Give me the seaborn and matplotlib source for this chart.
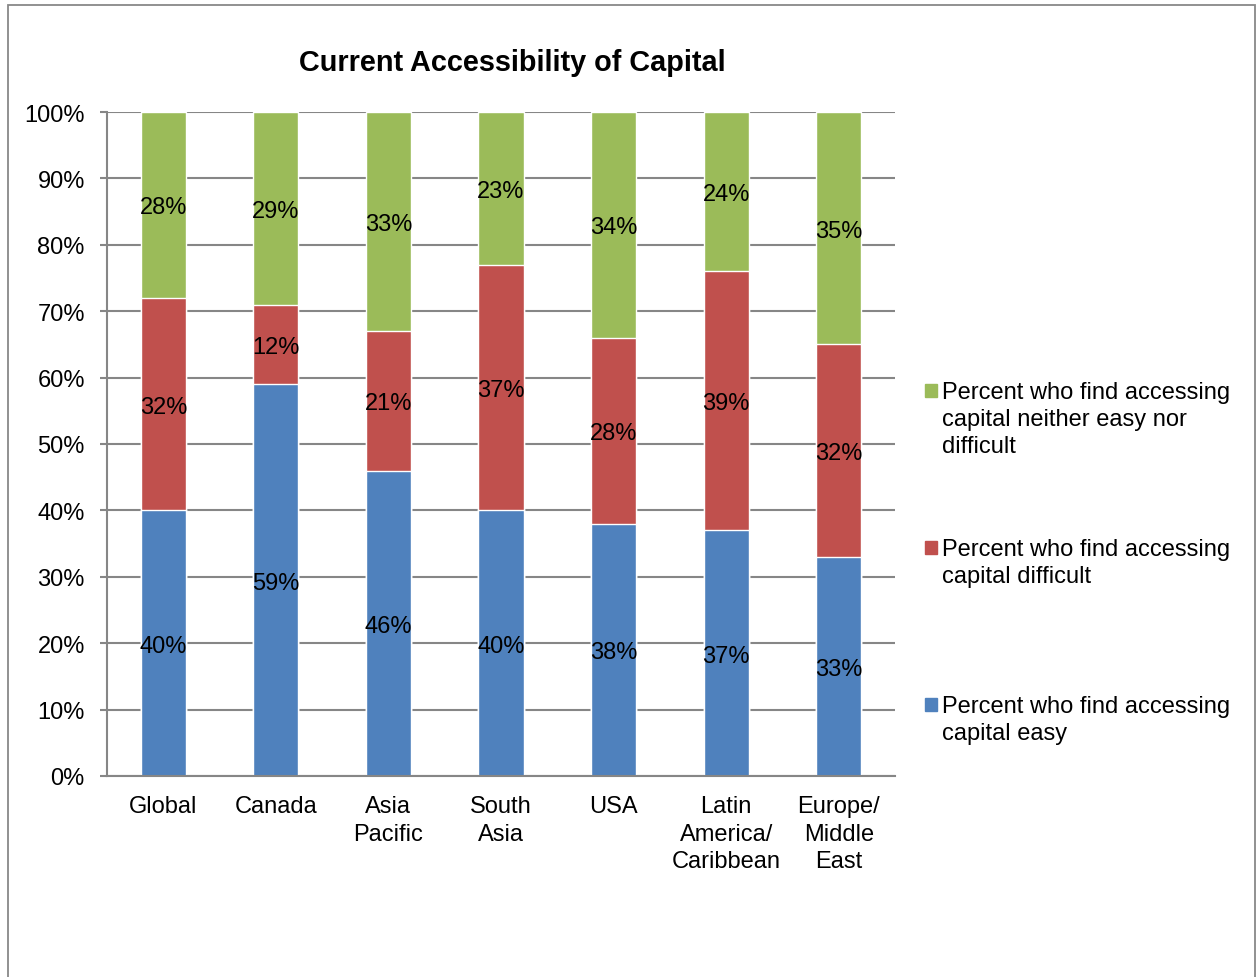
import numpy as np
import matplotlib
matplotlib.use("Agg")
import matplotlib.pyplot as plt
import seaborn as sns
from matplotlib.patches import Rectangle

categories = ["Global", "Canada", "Asia Pacific", "South Asia", "USA",
              "Latin America/Caribbean", "Europe/Middle East"]
tick_labels = ["Global", "Canada", "Asia\nPacific", "South\nAsia", "USA",
               "Latin\nAmerica/\nCaribbean", "Europe/\nMiddle\nEast"]
easy = [40, 59, 46, 40, 38, 37, 33]
difficult = [32, 12, 21, 37, 28, 39, 32]
neither = [28, 29, 33, 23, 34, 24, 35]
series_names = ["Percent who find accessing\ncapital neither easy nor\ndifficult",
                "Percent who find accessing\ncapital difficult",
                "Percent who find accessing\ncapital easy"]
y_ticks = [0, 10, 20, 30, 40, 50, 60, 70, 80, 90, 100]
title = "Current Accessibility of Capital"

BLUE, RED, GREEN = "#4F81BD", "#C0504D", "#9BBB59"
GRID = "#868686"

sns.set_style("white")
plt.rcParams["font.family"] = ["Liberation Sans", "DejaVu Sans"]
plt.rcParams["text.color"] = "black"
plt.rcParams["xtick.labelcolor"] = "black"
plt.rcParams["ytick.labelcolor"] = "black"

W, H = 1257, 978
fig = plt.figure(figsize=(W / 100, H / 100), dpi=100)
ax = fig.add_axes([107 / W, 1 - 777 / H, (895 - 107) / W, (777 - 113) / H])

e = np.array(easy, float)
d = np.array(difficult, float)
n = np.array(neither, float)
tot = e + d + n
cum_red = e + d

for vals, col in [(tot, GREEN), (cum_red, RED), (e, BLUE)]:
    sns.barplot(x=categories, y=vals, color=col, width=0.4, saturation=1,
                errorbar=None, ax=ax, order=categories, zorder=2)

for i in range(len(categories)):
    for y, v in [(e[i] / 2, easy[i]), (e[i] + d[i] / 2, difficult[i]),
                 (cum_red[i] + n[i] / 2, neither[i])]:
        ax.text(i, y, f"{v}%", ha="center", va="center_baseline", fontsize=17,
                color="black", zorder=5)

ax.set_xlim(-0.5, len(categories) - 0.5)
ax.set_ylim(0, 100)
ax.set_yticks(y_ticks)
ax.set_yticklabels([f"{t}%" for t in y_ticks], fontsize=17, color="black")
ax.set_xticks(range(len(categories)))
ax.set_xticklabels(tick_labels, fontsize=17, linespacing=1.3, color="black")
ax.set_xticks(np.arange(-0.5, len(categories)), minor=True)
ax.tick_params(axis="x", which="major", length=0, pad=14)
ax.tick_params(axis="x", which="minor", length=7, width=1.5, color=GRID, direction="out")
ax.tick_params(axis="y", length=5, width=1.5, color=GRID, direction="out", pad=11, left=True)
ax.set_xlabel("")
ax.set_ylabel("")
ax.yaxis.grid(True, color=GRID, lw=1.5)
ax.xaxis.grid(False)
ax.set_axisbelow(True)
for s in ["top", "right"]:
    ax.spines[s].set_visible(False)
for s in ["left", "bottom"]:
    ax.spines[s].set_color(GRID)
    ax.spines[s].set_linewidth(1.5)
    ax.spines[s].set_zorder(3)

fig.text(512 / W, 1 - 63 / H, title, ha="center", va="center", fontsize=20.8,
         fontweight="bold", color="black")

# legend
leg_cols = [GREEN, RED, BLUE]
leg_tops = [382, 539, 696]
for name, col, top in zip(series_names, leg_cols, leg_tops):
    fig.patches.append(Rectangle((925 / W, 1 - (top + 16) / H), 12 / W, 13 / H,
                                 transform=fig.transFigure, color=col))
    fig.text(942 / W, 1 - top / H, name, ha="left", va="top", fontsize=17,
             linespacing=1.3, color="black")

# outer border
fig.patches.append(Rectangle((8 / W, -0.05), (1255 - 8) / W, 1.05 - 6 / H,
                             transform=fig.transFigure, fill=False, edgecolor="#888888",
                             lw=1.3))

fig.savefig("out.png", dpi=100)
